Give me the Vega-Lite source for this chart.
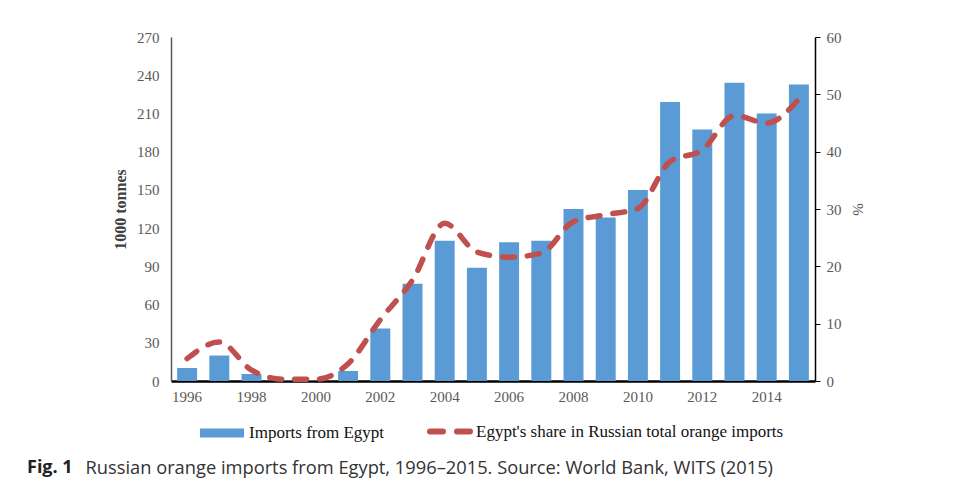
{
  "$schema": "https://vega.github.io/schema/vega-lite/v6.json",
  "autosize": "none",
  "width": 644,
  "height": 344,
  "padding": {"left": 171, "top": 37, "right": 142, "bottom": 102},
  "background": "white",
  "config": {"view": {"stroke": null}, "axis": {"grid": false}},
  "title": {
    "text": "Fig. 1",
    "orient": "bottom",
    "anchor": "start",
    "frame": "group",
    "font": "Open Sans",
    "fontWeight": "bold",
    "fontSize": 18,
    "color": "#222222",
    "dx": -144,
    "dy": -21
  },
  "data": {
    "values": [
      {"year": 1996, "imports": 10.2, "share": 3.9},
      {"year": 1997, "imports": 20, "share": 6.8},
      {"year": 1998, "imports": 5.5, "share": 1.9},
      {"year": 1999, "imports": 0.4, "share": 0.3},
      {"year": 2000, "imports": 0.3, "share": 0.3},
      {"year": 2001, "imports": 7.9, "share": 3.0},
      {"year": 2002, "imports": 41.2, "share": 10.7},
      {"year": 2003, "imports": 76.3, "share": 17.6},
      {"year": 2004, "imports": 110, "share": 27.5},
      {"year": 2005, "imports": 88.9, "share": 22.5},
      {"year": 2006, "imports": 109, "share": 21.6},
      {"year": 2007, "imports": 110, "share": 22.3},
      {"year": 2008, "imports": 135, "share": 27.8},
      {"year": 2009, "imports": 128.4, "share": 29},
      {"year": 2010, "imports": 150, "share": 30.1},
      {"year": 2011, "imports": 219, "share": 38.3},
      {"year": 2012, "imports": 197.4, "share": 40.3},
      {"year": 2013, "imports": 234, "share": 46.3},
      {"year": 2014, "imports": 210, "share": 45},
      {"year": 2015, "imports": 232.8, "share": 49.2}
    ]
  },
  "encoding": {
    "x": {
      "field": "year",
      "type": "ordinal",
      "scale": {"paddingInner": 0.38, "paddingOuter": 0.19},
      "axis": {
        "values": [1996, 1998, 2000, 2002, 2004, 2006, 2008, 2010, 2012, 2014],
        "labelAngle": 0,
        "ticks": false,
        "domainColor": "#000000",
        "domainWidth": 2.5,
        "labelPadding": 8,
        "labelFont": "Liberation Serif",
        "labelFontSize": 15,
        "labelColor": "#595959",
        "title": "Russian orange imports from Egypt, 1996–2015. Source: World Bank, WITS (2015)",
        "titleFont": "Open Sans",
        "titleFontWeight": "normal",
        "titleFontSize": 18.3,
        "titleColor": "#333333",
        "titleAlign": "left",
        "titleBaseline": "alphabetic",
        "titleAnchor": "start",
        "titleX": -86,
        "titleY": 92,
        "titleLimit": 0
      }
    }
  },
  "layer": [
    {
      "mark": {"type": "bar"},
      "encoding": {
        "y": {
          "field": "imports",
          "type": "quantitative",
          "scale": {"domain": [0, 270], "nice": false},
          "axis": {
            "orient": "left",
            "values": [0, 30, 60, 90, 120, 150, 180, 210, 240, 270],
            "ticks": false,
            "labelPadding": 12,
            "domainColor": "#595959",
            "domainWidth": 1.5,
            "labelFont": "Liberation Serif",
            "labelFontSize": 15,
            "labelColor": "#595959",
            "title": "1000 tonnes",
            "titleFont": "Liberation Serif",
            "titleFontWeight": "bold",
            "titleFontSize": 16,
            "titleColor": "#404040",
            "titlePadding": 8
          }
        },
        "fill": {
          "datum": "Imports from Egypt",
          "scale": {"range": ["#5b9bd5"]},
          "legend": {
            "orient": "none",
            "legendX": 29,
            "legendY": 374,
            "title": null,
            "symbolType": "M-1,-0.2045H1V0.2045H-1Z",
            "symbolSize": 1936,
            "symbolStrokeWidth": 0,
            "labelOffset": 5,
            "labelLimit": 0,
            "labelFont": "Liberation Serif",
            "labelFontSize": 17,
            "labelColor": "#111111"
          }
        }
      }
    },
    {
      "mark": {"type": "line", "interpolate": "monotone", "strokeWidth": 5.5, "strokeDash": [12, 13], "strokeCap": "round"},
      "encoding": {
        "y": {
          "field": "share",
          "type": "quantitative",
          "scale": {"domain": [0, 60], "nice": false},
          "axis": {
            "orient": "right",
            "values": [0, 10, 20, 30, 40, 50, 60],
            "tickSize": 5,
            "tickColor": "#000000",
            "domainColor": "#000000",
            "domainWidth": 1.5,
            "labelPadding": 6,
            "labelFont": "Liberation Serif",
            "labelFontSize": 15,
            "labelColor": "#595959",
            "title": "%",
            "titleFont": "Liberation Serif",
            "titleFontWeight": "normal",
            "titleFontSize": 15,
            "titleColor": "#595959",
            "titlePadding": 8
          }
        },
        "stroke": {
          "datum": "Egypt's share in Russian total orange imports",
          "scale": {"range": ["#c0504d"]},
          "legend": {
            "orient": "none",
            "legendX": 256,
            "legendY": 371,
            "title": null,
            "symbolType": "stroke",
            "symbolSize": 1681,
            "symbolStrokeWidth": 6,
            "symbolDash": [13, 14],
            "labelOffset": 2,
            "labelLimit": 0,
            "labelFont": "Liberation Serif",
            "labelFontSize": 17,
            "labelColor": "#111111",
            "encode": {"symbols": {"update": {"strokeCap": {"value": "round"}}}}
          }
        }
      }
    }
  ],
  "resolve": {"scale": {"y": "independent"}}
}
